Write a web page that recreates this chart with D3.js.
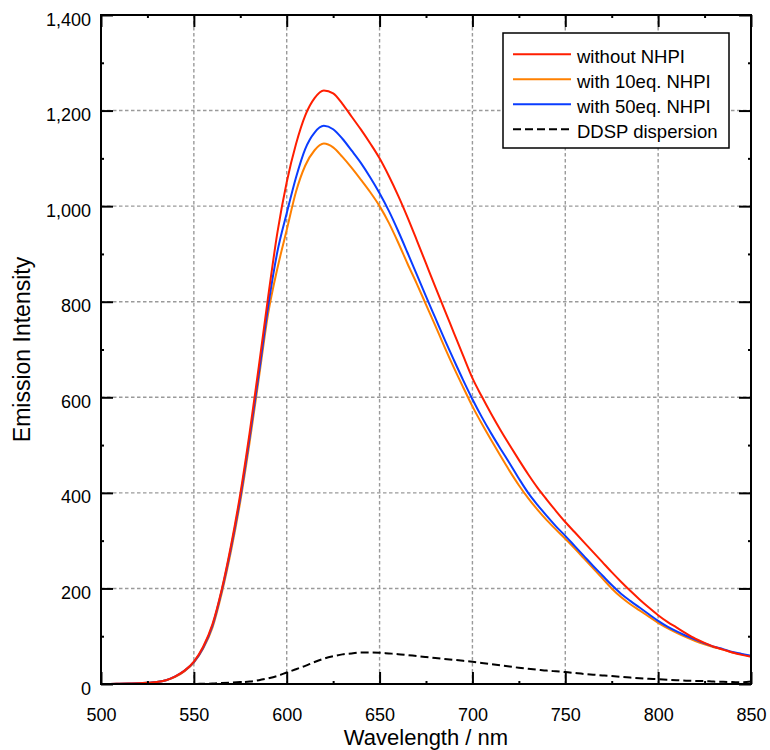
<!DOCTYPE html>
<html>
<head>
<meta charset="utf-8">
<script src="https://cdnjs.cloudflare.com/ajax/libs/d3/7.8.5/d3.min.js"></script>
<style>
  html, body { margin: 0; padding: 0; background: #fff; }
  svg { display: block; font-family: "Liberation Sans", Arial, sans-serif; }
</style>
</head>
<body>
<svg id="chart" width="770" height="750"></svg>
<script>
// ---------------- data ----------------
const wavelengths = [500,505,510,515,520,525,530,535,540,545,550,555,560,565,570,575,580,585,590,595,
  600,605,610,615,620,625,630,635,640,645,650,655,660,665,670,675,680,685,690,695,
  700,705,710,715,720,725,730,735,740,745,750,755,760,765,770,775,780,785,790,795,
  800,805,810,815,820,825,830,835,840,845,850];

const withoutNHPI = [0,0,0.5,1,1.5,2.5,4,8,16,28,47,78,125,198,290,398,525,665,810,945,
  1050,1130,1190,1226,1242,1236,1214,1187,1160,1131,1100,1063,1022,977,929,880,831,783,735,687,
  640,602,566,532,500,469,439,411,386,362,339,318,297,276,255,234,214,195,177,160,
  144,130,118,106,95,86,78,72,66,61,57];

const with10eq = [0,0,0.5,1,1.5,2.5,4,8,15,27,45,74,118,190,278,382,505,640,775,870,
  950,1030,1085,1117,1131,1123,1103,1080,1055,1029,1000,965,924,880,838,794,750,705,662,621,
  581,545,511,478,446,416,389,365,343,323,304,284,263,242,221,200,182,167,154,141,
  128,117,107,98,90,83,77,72,66,62,58];

const with50eq = [0,0,0.5,1,1.5,2.5,4,8,16,28,46,76,122,195,285,390,515,650,790,905,
  985,1060,1120,1154,1168,1161,1141,1116,1090,1060,1027,990,948,903,857,811,766,721,678,636,
  596,559,525,493,462,430,400,375,352,330,310,289,268,247,227,207,189,174,160,146,
  132,120,110,101,93,85,78,73,67,63,59];

const ddsp = [0,0,0,0,0,0,0,0,0,0,0,0.5,1,2,3,4,5,8,12,17,
  24,31,38,46,53,58,62,64,66,66,65.5,64,62.5,60.5,58.5,56.5,54.5,52.5,50.5,48.5,
  46.5,44,41.5,39,36.5,34,32,30,28,26.5,25,23,21,19.5,18,16.5,15,13.5,12,11,
  10,9,8,7,6.5,6,5,4.5,4,3.5,5];

const seriesNames = ["without NHPI", "with 10eq. NHPI", "with 50eq. NHPI", "DDSP dispersion"];
const seriesColors = ["#ff1e00", "#ff8000", "#0a3cff", "#000000"];

const xMajorTicks = [500,550,600,650,700,750,800,850];
const xMinorTicks = [525,575,625,675,725,775,825];
const yMajorTicks = [0,200,400,600,800,1000,1200,1400];
const yMinorTicks = [100,300,500,700,900,1100,1300];

const xTitle = "Wavelength / nm";
const yTitle = "Emission Intensity";

// ---------------- layout ----------------
const L = 101, R = 751, T = 15, B = 684;
const svg = d3.select("#chart");
svg.append("rect").attr("width", 770).attr("height", 750).attr("fill", "#fff");

const x = d3.scaleLinear().domain([500, 850]).range([L, R]);
const y = d3.scaleLinear().domain([0, 1400]).range([B, T]);

// grid
const grid = svg.append("g").attr("stroke", "#9a9a9a").attr("stroke-width", 1.4)
  .attr("stroke-dasharray", "3.5,2.5").attr("fill", "none");
xMajorTicks.filter(v => v > 500 && v < 850).forEach(v => {
  grid.append("line").attr("x1", x(v)).attr("x2", x(v)).attr("y1", T).attr("y2", B);
});
yMajorTicks.filter(v => v > 0 && v < 1400).forEach(v => {
  grid.append("line").attr("x1", L).attr("x2", R).attr("y1", y(v)).attr("y2", y(v));
});

// series
const seriesData = [withoutNHPI, with10eq, with50eq, ddsp];
const line = d3.line().curve(d3.curveMonotoneX)
  .x((d, i) => x(wavelengths[i])).y(d => y(d));
const drawOrder = [3, 1, 2, 0];
drawOrder.forEach(k => {
  svg.append("path")
    .datum(seriesData[k])
    .attr("fill", "none")
    .attr("stroke", seriesColors[k])
    .attr("stroke-width", 2)
    .attr("stroke-linejoin", "round")
    .attr("stroke-dasharray", k === 3 ? "8,4" : null)
    .attr("d", line);
});

// axes
function styleAxis(g) {
  g.select(".domain").remove();
  g.selectAll(".tick line").attr("stroke", "#000").attr("stroke-width", 2);
  g.selectAll("text").attr("fill", "#000").attr("font-size", 18)
    .attr("font-family", "'Liberation Sans', Arial, sans-serif");
}
const fmt = d3.format(",");

svg.append("g").attr("transform", `translate(0,${B})`)
  .call(d3.axisBottom(x).tickValues(xMajorTicks).tickSize(-12).tickPadding(24.5).tickFormat(d3.format("d")))
  .call(styleAxis);
svg.append("g").attr("transform", `translate(0,${B})`)
  .call(d3.axisBottom(x).tickValues(xMinorTicks).tickSize(-3).tickFormat(""))
  .call(styleAxis);
svg.append("g").attr("transform", `translate(0,${T})`)
  .call(d3.axisTop(x).tickValues(xMajorTicks).tickSize(-12).tickFormat(""))
  .call(styleAxis);
svg.append("g").attr("transform", `translate(0,${T})`)
  .call(d3.axisTop(x).tickValues(xMinorTicks).tickSize(-3).tickFormat(""))
  .call(styleAxis);

const yl = svg.append("g").attr("transform", `translate(${L},0)`)
  .call(d3.axisLeft(y).tickValues(yMajorTicks).tickSize(-12).tickPadding(10).tickFormat(fmt))
  .call(styleAxis);
yl.selectAll("text").attr("dy", "0.56em");
svg.append("g").attr("transform", `translate(${L},0)`)
  .call(d3.axisLeft(y).tickValues(yMinorTicks).tickSize(-3).tickFormat(""))
  .call(styleAxis);
svg.append("g").attr("transform", `translate(${R},0)`)
  .call(d3.axisRight(y).tickValues(yMajorTicks).tickSize(-12).tickFormat(""))
  .call(styleAxis);
svg.append("g").attr("transform", `translate(${R},0)`)
  .call(d3.axisRight(y).tickValues(yMinorTicks).tickSize(-3).tickFormat(""))
  .call(styleAxis);

// frame
svg.append("rect").attr("x", L).attr("y", T).attr("width", R - L).attr("height", B - T)
  .attr("fill", "none").attr("stroke", "#000").attr("stroke-width", 2);

// axis titles
svg.append("text").attr("x", (L + R) / 2).attr("y", 745).attr("text-anchor", "middle")
  .attr("font-size", 22).attr("fill", "#000").text(xTitle);
svg.append("text").attr("transform", `translate(30,${(T + B) / 2}) rotate(-90)`)
  .attr("text-anchor", "middle").attr("font-size", 23).attr("fill", "#000").text(yTitle);

// legend
const lg = svg.append("g");
lg.append("rect").attr("x", 503).attr("y", 33).attr("width", 226).attr("height", 115)
  .attr("fill", "#fff").attr("stroke", "#000").attr("stroke-width", 1.5);
seriesNames.forEach((name, i) => {
  const yy = 54.3 + i * 25;
  lg.append("line").attr("x1", 513).attr("x2", 571).attr("y1", yy).attr("y2", yy)
    .attr("stroke", seriesColors[i]).attr("stroke-width", 2)
    .attr("stroke-dasharray", i === 3 ? "8,4" : null);
  lg.append("text").attr("x", 577).attr("y", yy + 9).attr("font-size", 18.5)
    .attr("fill", "#000").text(name);
});
</script>
</body>
</html>
